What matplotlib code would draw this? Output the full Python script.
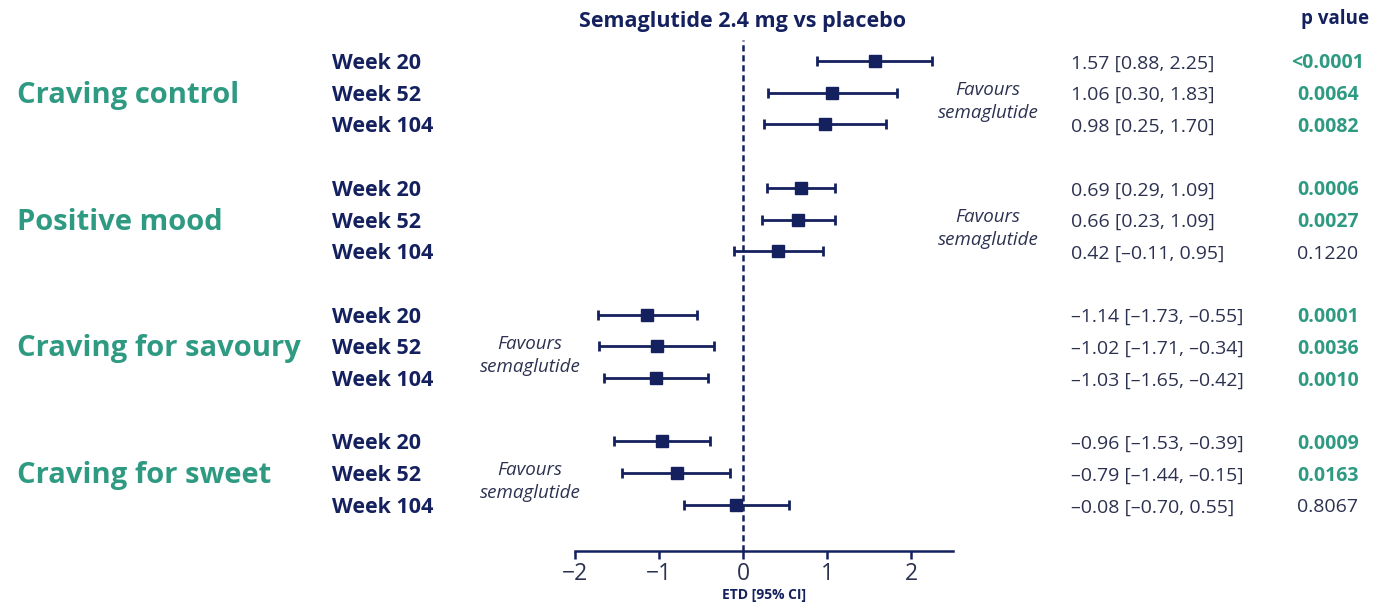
import matplotlib
matplotlib.use("Agg")
import matplotlib.pyplot as plt
from matplotlib.transforms import blended_transform_factory, offset_copy

plt.rcParams['font.family'] = ['Open Sans', 'DejaVu Sans']

# ---- data ----
categories = ["Craving control", "Positive mood", "Craving for savoury", "Craving for sweet"]
weeks = ["Week 20", "Week 52", "Week 104"]
etd = [1.57, 1.06, 0.98, 0.69, 0.66, 0.42, -1.14, -1.02, -1.03, -0.96, -0.79, -0.08]
ci_low = [0.88, 0.30, 0.25, 0.29, 0.23, -0.11, -1.73, -1.71, -1.65, -1.53, -1.44, -0.70]
ci_high = [2.25, 1.83, 1.70, 1.09, 1.09, 0.95, -0.55, -0.34, -0.42, -0.39, -0.15, 0.55]
p_values = ["<0.0001", "0.0064", "0.0082", "0.0006", "0.0027", "0.1220",
            "0.0001", "0.0036", "0.0010", "0.0009", "0.0163", "0.8067"]
significant = [True, True, True, True, True, False, True, True, True, True, True, False]
favours_side = [1, 1, -1, -1]  # which side the "Favours semaglutide" note sits on
x_ticks = [-2, -1, 0, 1, 2]

NAVY = "#14215e"
TEAL = "#2f9a82"
GREY = "#2c3150"

W, H = 1378, 606
fig = plt.figure(figsize=(W / 100, H / 100), dpi=100)

# axes in pixel geometry
x0_px, x1_px = 575, 953
y_top_px, y_bot_px = 40, 551
ax = fig.add_axes([x0_px / W, 1 - y_bot_px / H, (x1_px - x0_px) / W, (y_bot_px - y_top_px) / H])

row_px = 31.7
first_row_px = 61
ypos = []
for g in range(len(categories)):
    for w in range(len(weeks)):
        ypos.append(g * 4 + w)
ax.set_ylim((y_bot_px - first_row_px) / row_px, (y_top_px - first_row_px) / row_px)
ax.set_xlim(-2, 2.5)

for i in range(len(etd)):
    ax.errorbar(etd[i], ypos[i], xerr=[[etd[i] - ci_low[i]], [ci_high[i] - etd[i]]],
                fmt='s', color=NAVY, ms=9, elinewidth=2, capsize=3.5, capthick=2, zorder=3)

ax.axvline(0, color=NAVY, ls=(0, (2.5, 1.5)), lw=1.8, zorder=2)

for s in ["top", "right", "left"]:
    ax.spines[s].set_visible(False)
ax.spines["bottom"].set_color(NAVY)
ax.spines["bottom"].set_linewidth(1.8)
ax.set_yticks([])
ax.set_xticks(x_ticks)
ax.set_xticklabels([("\u2212" + str(abs(t))) if t < 0 else str(t) for t in x_ticks])
ax.tick_params(axis="x", colors=NAVY, length=6, width=1.8, labelsize=16.5, labelcolor=GREY, pad=2)
ax.set_xlabel("ETD [95% CI]", fontsize=10, fontweight="bold", color=NAVY, labelpad=1)

# texts: figure-x, data-y, nudged 2.5 px down so glyphs sit on the row centre
trans = offset_copy(blended_transform_factory(fig.transFigure, ax.transData),
                    fig=fig, x=0, y=-2.5, units="dots")


def fx(px):
    return px / W


def fmt(v):
    s = f"{v:.2f}"
    return s.replace("-", "\u2013")


for i in range(len(etd)):
    ax.text(fx(332), ypos[i], weeks[i % 3], transform=trans, ha="left", va="center",
            fontsize=15.5, fontweight="bold", color=NAVY)
    ax.text(fx(1071), ypos[i], f"{fmt(etd[i])} [{fmt(ci_low[i])}, {fmt(ci_high[i])}]",
            transform=trans, ha="left", va="center", fontsize=14, color=GREY)
    ax.text(fx(1328), ypos[i], p_values[i], transform=trans, ha="center", va="center",
            fontsize=14, fontweight="bold" if significant[i] else "normal",
            color=TEAL if significant[i] else GREY)

for g, cat in enumerate(categories):
    ax.text(fx(17), g * 4 + 1, cat, transform=trans, ha="left", va="center",
            fontsize=21, fontweight="bold", color=TEAL)
    cx = 988 if favours_side[g] > 0 else 530
    ax.text(fx(cx), g * 4 + 1.2, "Favours\nsemaglutide", transform=trans, ha="center",
            va="center", fontsize=13.5, style="italic", color=GREY, linespacing=1.35)

fig.text(fx(743), 1 - 21 / H, "Semaglutide 2.4 mg vs placebo", ha="center", va="center",
         fontsize=15.5, fontweight="bold", color=NAVY)
fig.text(fx(1335), 1 - 19 / H, "p value", ha="center", va="center",
         fontsize=13.5, fontweight="bold", color=NAVY)

fig.savefig("out.png", dpi=100, facecolor="white")
